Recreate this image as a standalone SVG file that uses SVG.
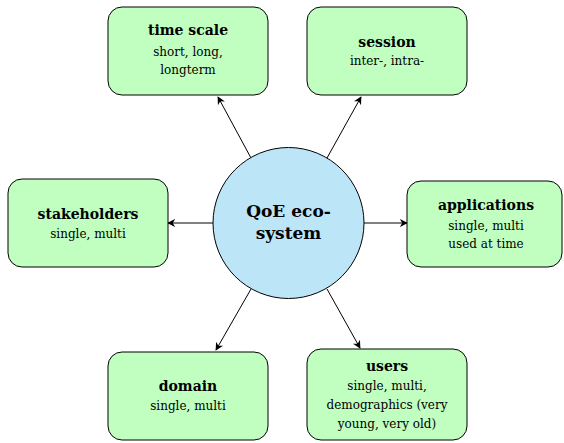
<svg xmlns="http://www.w3.org/2000/svg" width="564" height="443" viewBox="0 0 564 443">
<defs>
<marker id="ah" viewBox="0 0 10 10" refX="9" refY="5" markerWidth="8" markerHeight="8" markerUnits="userSpaceOnUse" orient="auto">
<path d="M0,0 L10,5 L0,10 L3,5 Z" fill="#000"/>
</marker>
<style>
.box{fill:#c0ffc0;stroke:#000;stroke-width:1}
.hub{fill:#bde5f8;stroke:#000;stroke-width:1}
text{font-family:'DejaVu Serif',serif;text-anchor:middle;fill:#000}
.t{font-weight:bold;font-size:14px}
.s{font-size:12px}
.c{font-weight:bold;font-size:17px}
.e{stroke:#000;stroke-width:1;fill:none;marker-end:url(#ah)}
</style>
</defs>
<g id="connectors">
<line class="e" x1="251" y1="158" x2="218" y2="97"/>
<line class="e" x1="327" y1="158" x2="361" y2="97"/>
<line class="e" x1="213" y1="223" x2="168" y2="223"/>
<line class="e" x1="364" y1="223" x2="407" y2="223"/>
<line class="e" x1="251" y1="289" x2="216" y2="350"/>
<line class="e" x1="327" y1="289" x2="360" y2="348"/>
</g>
<g id="hub">
<circle class="hub" cx="288.5" cy="223" r="75.5"/>
<text class="c" x="288.5" y="217">QoE eco-</text>
<text class="c" x="288.5" y="238.5">system</text>
</g>
<g id="timescale">
<rect class="box" x="108" y="7" width="160" height="88" rx="14"/>
<text class="t" x="188" y="35">time scale</text>
<text class="s" x="188" y="56">short, long,</text>
<text class="s" x="188" y="74">longterm</text>
</g>
<g id="session">
<rect class="box" x="307" y="7" width="160" height="88" rx="14"/>
<text class="t" x="387" y="47">session</text>
<text class="s" x="387" y="65">inter-, intra-</text>
</g>
<g id="stakeholders">
<rect class="box" x="8" y="179" width="160" height="88" rx="14"/>
<text class="t" x="88" y="219">stakeholders</text>
<text class="s" x="88" y="238">single, multi</text>
</g>
<g id="applications">
<rect class="box" x="407" y="181" width="155" height="86" rx="14"/>
<text class="t" x="486" y="210">applications</text>
<text class="s" x="486" y="230">single, multi</text>
<text class="s" x="486" y="248">used at time</text>
</g>
<g id="domain">
<rect class="box" x="108" y="352" width="160" height="88" rx="14"/>
<text class="t" x="188" y="391">domain</text>
<text class="s" x="188" y="410">single, multi</text>
</g>
<g id="users">
<rect class="box" x="307" y="349" width="160" height="91" rx="14"/>
<text class="t" x="387" y="371">users</text>
<text class="s" x="387" y="390">single, multi,</text>
<text class="s" x="387" y="409">demographics (very</text>
<text class="s" x="387" y="428">young, very old)</text>
</g>
</svg>
